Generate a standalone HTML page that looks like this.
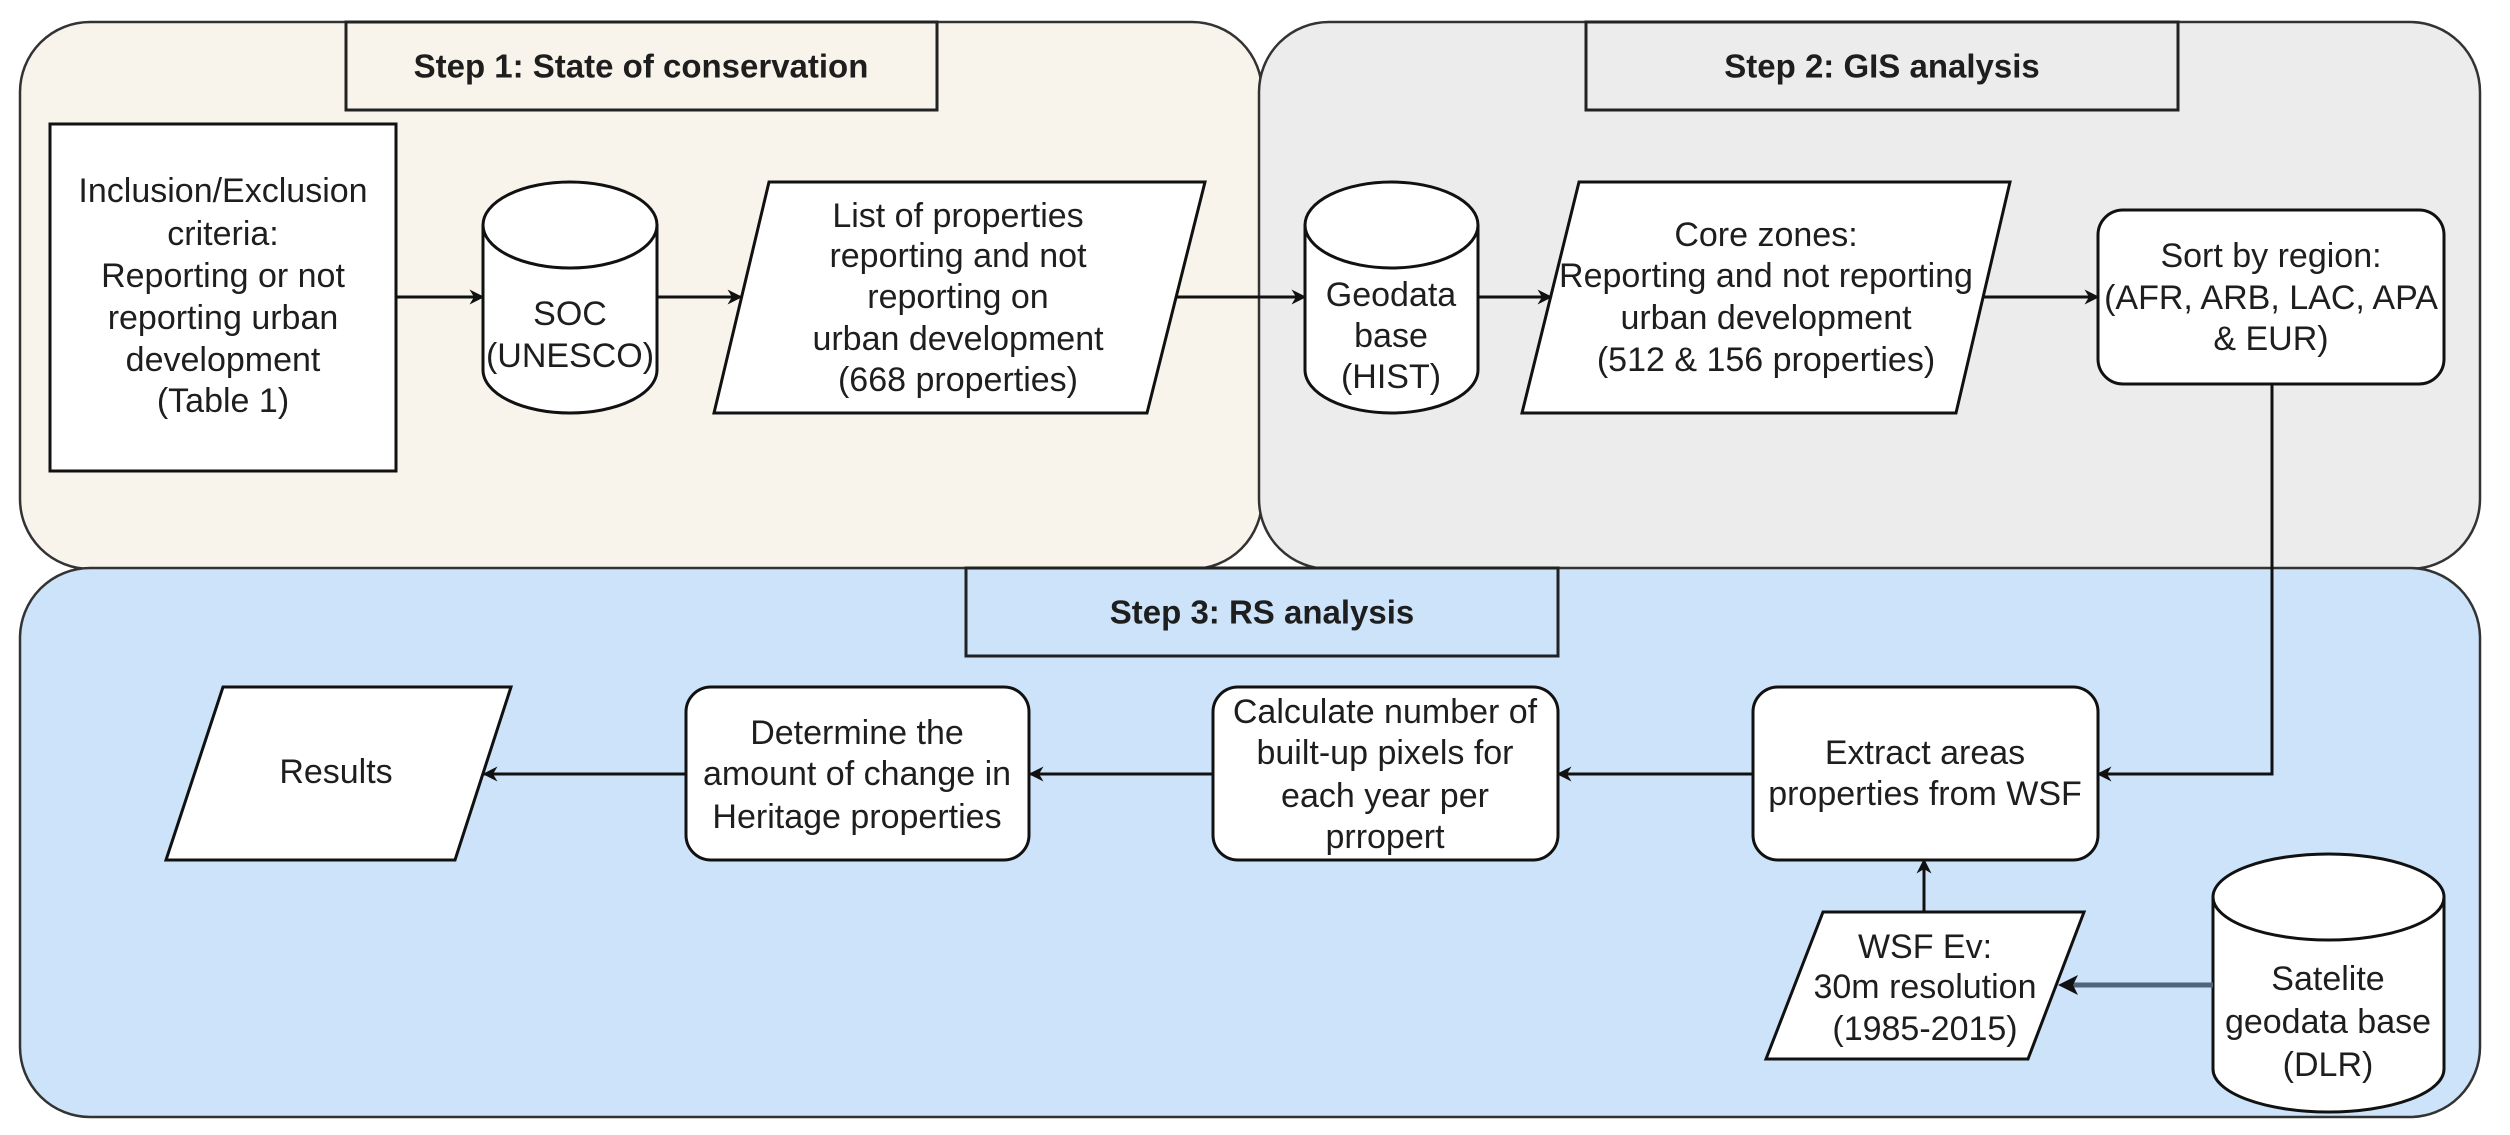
<!DOCTYPE html>
<html><head><meta charset="utf-8"><style>
html,body{margin:0;padding:0;background:#fff;}
svg{display:block;}
text{font-family:"Liberation Sans",Arial,sans-serif;font-size:34px;fill:#1e1e1e;text-anchor:middle;dominant-baseline:central;}
.h{font-weight:bold;font-size:33px;}
</style></head><body>
<svg width="2510" height="1135" viewBox="0 0 2510 1135" xmlns="http://www.w3.org/2000/svg">
<defs>
<marker id="a" viewBox="0 0 10 10" refX="9" refY="5" markerWidth="5" markerHeight="5" orient="auto" markerUnits="strokeWidth">
<path d="M0,0 L10,5 L0,10 L3,5 z" fill="#111"/></marker>
</defs>
<rect x="20" y="22" width="1242" height="547" rx="70" ry="70" fill="#f8f4ec" stroke="#333" stroke-width="2.5"/>
<rect x="1259" y="22" width="1221" height="547" rx="70" ry="70" fill="#ececec" stroke="#333" stroke-width="2.5"/>
<rect x="20" y="568" width="2460" height="549" rx="70" ry="70" fill="#cce3f9" stroke="#333" stroke-width="2.5"/>
<rect x="346" y="22" width="591" height="88" fill="#f8f4ec" stroke="#222" stroke-width="3"/>
<text class="h" x="641" y="66">Step 1: State of conservation</text>
<rect x="1586" y="22" width="592" height="88" fill="#ececec" stroke="#222" stroke-width="3"/>
<text class="h" x="1882" y="66">Step 2: GIS analysis</text>
<rect x="966" y="568" width="592" height="88" fill="#cce3f9" stroke="#222" stroke-width="3"/>
<text class="h" x="1262" y="612">Step 3: RS analysis</text>

<g stroke="#111" stroke-width="3" fill="#fff">
<rect x="50" y="124" width="346" height="347"/>
<path d="M483,225 L483,370 A87,43 0 0 0 657,370 L657,225 A87,43 0 0 0 483,225 A87,43 0 0 0 657,225"/>
<polygon points="769,182 1205,182 1147,413 714,413"/>
<path d="M1305,225 L1305,370 A86.5,43 0 0 0 1478,370 L1478,225 A86.5,43 0 0 0 1305,225 A86.5,43 0 0 0 1478,225"/>
<polygon points="1579,182 2010,182 1956,413 1522,413"/>
<rect x="2098" y="210" width="346" height="174" rx="25" ry="25"/>
<polygon points="223,687 511,687 455,860 166,860"/>
<rect x="686" y="687" width="343" height="173" rx="25" ry="25"/>
<rect x="1213" y="687" width="345" height="173" rx="25" ry="25"/>
<rect x="1753" y="687" width="345" height="173" rx="25" ry="25"/>
<polygon points="1823,912 2084,912 2028,1059 1766,1059"/>
<path d="M2213,897 L2213,1069 A115.5,43 0 0 0 2444,1069 L2444,897 A115.5,43 0 0 0 2213,897 A115.5,43 0 0 0 2444,897"/>
</g>

<g stroke="#111" stroke-width="3" fill="none" marker-end="url(#a)">
<line x1="396" y1="297" x2="483" y2="297"/>
<line x1="657" y1="297" x2="741" y2="297"/>
<line x1="1176" y1="297" x2="1305" y2="297"/>
<line x1="1478" y1="297" x2="1551" y2="297"/>
<line x1="1983" y1="297" x2="2098" y2="297"/>
<polyline points="2272,384 2272,774 2098,774"/>
<line x1="1753" y1="774" x2="1558" y2="774"/>
<line x1="1213" y1="774" x2="1030" y2="774"/>
<line x1="686" y1="774" x2="484" y2="774"/>
<line x1="1924" y1="912" x2="1924" y2="860"/>
</g>
<line x1="2213" y1="985" x2="2070" y2="985" stroke="#50657c" stroke-width="5"/>
<path d="M2058,985 L2078,975 L2073,985 L2078,995 z" fill="#111"/>

<text x="223" y="191">Inclusion/Exclusion</text>
<text x="223" y="234">criteria:</text>
<text x="223" y="276">Reporting or not</text>
<text x="223" y="318">reporting urban</text>
<text x="223" y="360">development</text>
<text x="223" y="401">(Table 1)</text>

<text x="570" y="314">SOC</text>
<text x="570" y="356">(UNESCO)</text>

<text x="958" y="216">List of properties</text>
<text x="958" y="256">reporting and not</text>
<text x="958" y="297">reporting on</text>
<text x="958" y="339">urban development</text>
<text x="958" y="380">(668 properties)</text>

<text x="1391" y="295">Geodata</text>
<text x="1391" y="336">base</text>
<text x="1391" y="377">(HIST)</text>

<text x="1766" y="235">Core zones:</text>
<text x="1766" y="276">Reporting and not reporting</text>
<text x="1766" y="318">urban development</text>
<text x="1766" y="360">(512 &amp; 156 properties)</text>

<text x="2271" y="256">Sort by region:</text>
<text x="2271" y="298">(AFR, ARB, LAC, APA</text>
<text x="2271" y="339">&amp; EUR)</text>

<text x="336" y="772">Results</text>

<text x="857" y="733">Determine the</text>
<text x="857" y="774">amount of change in</text>
<text x="857" y="817">Heritage properties</text>

<text x="1385" y="712">Calculate number of</text>
<text x="1385" y="753">built-up pixels for</text>
<text x="1385" y="796">each year per</text>
<text x="1385" y="837">prropert</text>

<text x="1925" y="753">Extract areas</text>
<text x="1925" y="794">properties from WSF</text>

<text x="1925" y="947">WSF Ev:</text>
<text x="1925" y="987">30m resolution</text>
<text x="1925" y="1029">(1985-2015)</text>

<text x="2328" y="979">Satelite</text>
<text x="2328" y="1022">geodata base</text>
<text x="2328" y="1065">(DLR)</text>
</svg>
</body></html>
